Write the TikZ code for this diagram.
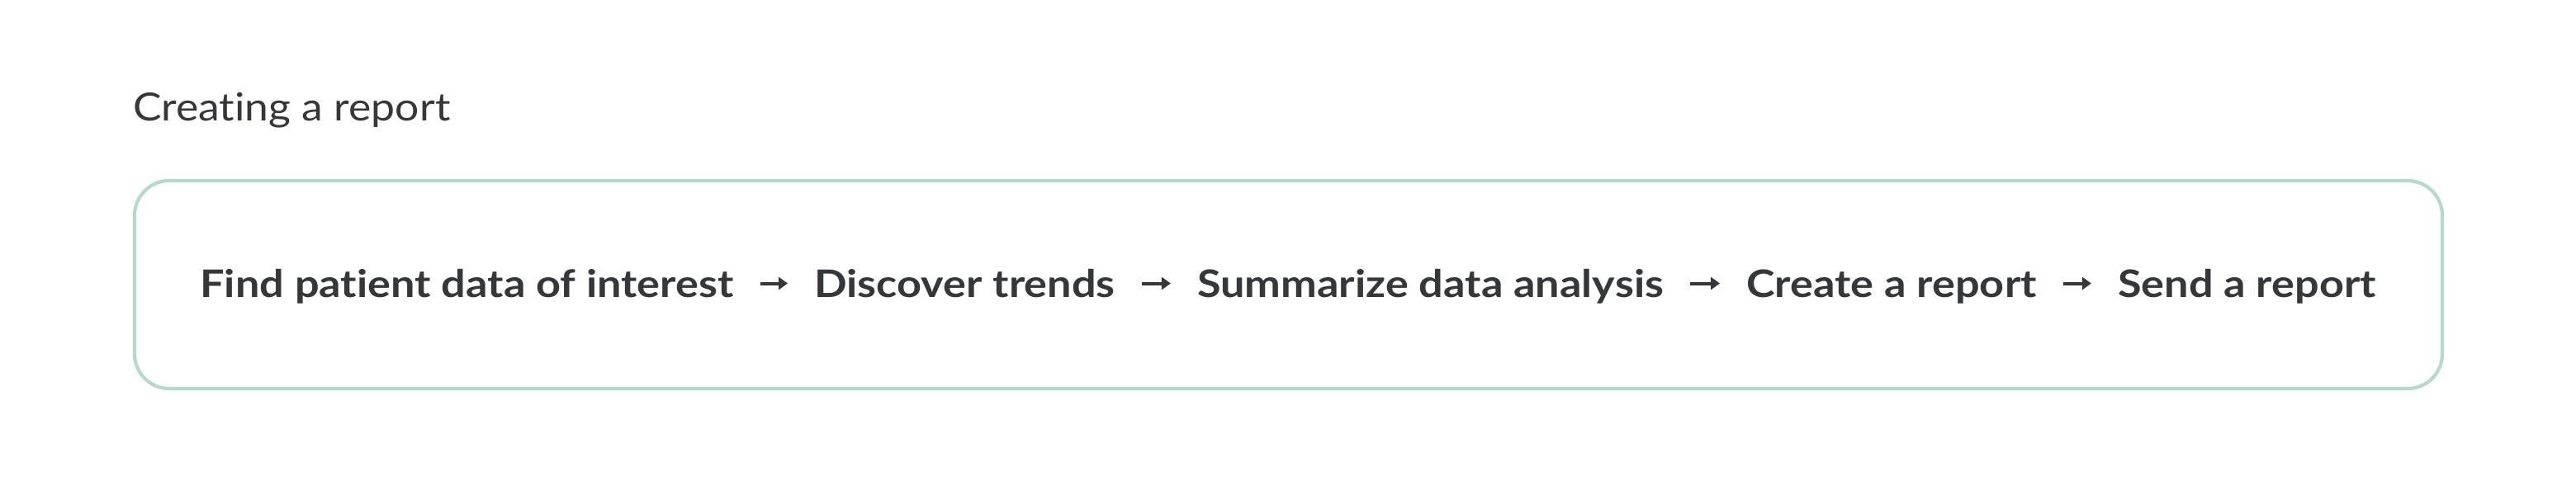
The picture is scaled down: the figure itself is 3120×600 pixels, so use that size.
\documentclass[tikz,border=0pt]{standalone}
\usepackage{fontspec}
\newfontfamily\stepfont{Lato}[FakeStretch=1.136,Ligatures=NoCommon]
\newfontfamily\titlefont{Lato}[FakeStretch=1.10,Ligatures=NoCommon]
\usetikzlibrary{arrows.meta}
\definecolor{ink}{HTML}{35383B}
\definecolor{frame}{HTML}{B7D7CF}
\begin{document}
\begin{tikzpicture}[x=1bp,y=-1bp,
  stepbox/.style={inner xsep=32bp,inner ysep=0pt,text height=33bp,text depth=0pt,
    font=\stepfont\fontsize{46bp}{55bp}\selectfont\bfseries,text=ink},
  flow/.style={draw=ink,line width=4bp,-{Triangle[length=11bp,width=15bp]}},
  titletext/.style={font=\titlefont\fontsize{47bp}{56bp}\selectfont,text=ink,inner sep=0pt,anchor=base west}]
\useasboundingbox (0,0) rectangle (3120,600);
\node[titletext] (title) at (161,147) {Creating a report};
\draw[frame,line width=4.2bp,rounded corners=42bp] (163,219) rectangle (2958,471);
\node[stepbox] (a) at (565.5,343.5) {Find patient data of interest};
\node[stepbox] (b) at (1168.5,343.5) {Discover trends};
\node[stepbox] (c) at (1732.5,343.5) {Summarize data analysis};
\node[stepbox] (d) at (2291,343.5) {Create a report};
\node[stepbox] (e) at (2721.5,343.5) {Send a report};
\draw[flow] (a) -- (b);
\draw[flow] (b) -- (c);
\draw[flow] (c) -- (d);
\draw[flow] (d) -- (e);
\end{tikzpicture}
\end{document}
